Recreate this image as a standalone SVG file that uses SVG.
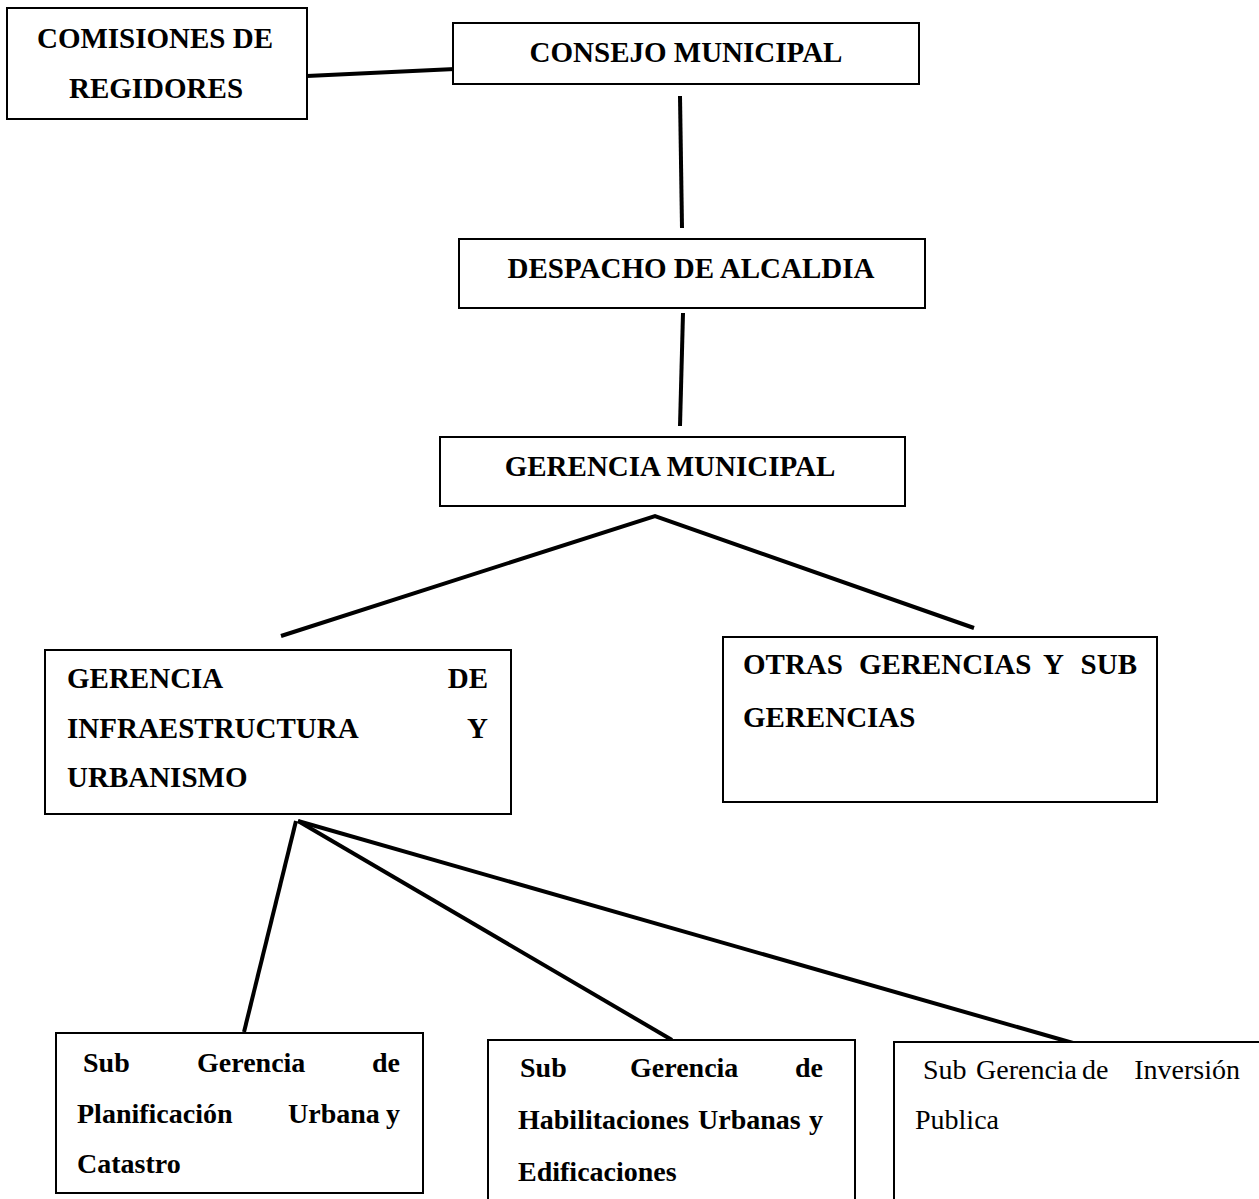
<svg xmlns="http://www.w3.org/2000/svg" width="1259" height="1199" viewBox="0 0 1259 1199">
<style>
.box{fill:#fff;stroke:#000;stroke-width:2}
.t{font-family:"Liberation Serif","Times New Roman",serif;font-weight:bold;font-size:29px;fill:#000}
.s{font-family:"Liberation Serif","Times New Roman",serif;font-weight:bold;font-size:28px;fill:#000}
.r{font-family:"Liberation Serif","Times New Roman",serif;font-size:28px;fill:#000}
.m{text-anchor:middle}
.e{text-anchor:end}
.c{fill:none;stroke:#000;stroke-width:4;stroke-linecap:butt;stroke-linejoin:miter}
</style>
<rect width="1259" height="1199" fill="#fff"/>
<g id="connectors">
<line class="c" x1="307" y1="76" x2="455" y2="69"/>
<line class="c" x1="680" y1="96" x2="682" y2="228"/>
<line class="c" x1="683" y1="313" x2="680" y2="426"/>
<polyline class="c" points="281,636 655,516 974,628"/>
<line class="c" x1="244" y1="1032" x2="296" y2="821"/>
<line class="c" x1="298" y1="821" x2="672" y2="1040"/>
<line class="c" x1="298" y1="821" x2="1073" y2="1043"/>
</g>
<g id="comisiones">
<rect class="box" x="7" y="8" width="300" height="111"/>
<text class="t m" x="155" y="48">COMISIONES DE</text>
<text class="t m" x="156" y="98">REGIDORES</text>
</g>
<g id="consejo">
<rect class="box" x="453" y="23" width="466" height="61"/>
<text class="t m" x="686" y="62">CONSEJO MUNICIPAL</text>
</g>
<g id="despacho">
<rect class="box" x="459" y="239" width="466" height="69"/>
<text class="t m" x="691" y="278">DESPACHO DE ALCALDIA</text>
</g>
<g id="gerencia-municipal">
<rect class="box" x="440" y="437" width="465" height="69"/>
<text class="t m" x="670" y="476">GERENCIA MUNICIPAL</text>
</g>
<g id="gerencia-infraestructura">
<rect class="box" x="45" y="650" width="466" height="164"/>
<text class="t" x="67" y="688">GERENCIA</text>
<text class="t e" x="488" y="688">DE</text>
<text class="t" x="67" y="738">INFRAESTRUCTURA</text>
<text class="t e" x="488" y="738">Y</text>
<text class="t" x="67" y="787">URBANISMO</text>
</g>
<g id="otras-gerencias">
<rect class="box" x="723" y="637" width="434" height="165"/>
<text class="t" x="743" y="674">OTRAS</text>
<text class="t" x="859" y="674">GERENCIAS</text>
<text class="t" x="1043" y="674">Y</text>
<text class="t e" x="1137" y="674">SUB</text>
<text class="t" x="743" y="727">GERENCIAS</text>
</g>
<g id="sg-planificacion">
<rect class="box" x="56" y="1033" width="367" height="160"/>
<text class="s" x="83" y="1072">Sub</text>
<text class="s" x="197" y="1072">Gerencia</text>
<text class="s e" x="400" y="1072">de</text>
<text class="s" x="77" y="1123">Planificación</text>
<text class="s" x="288" y="1123">Urbana</text>
<text class="s e" x="400" y="1123">y</text>
<text class="s" x="77" y="1173">Catastro</text>
</g>
<g id="sg-habilitaciones">
<rect class="box" x="488" y="1040" width="367" height="162"/>
<text class="s" x="520" y="1077">Sub</text>
<text class="s" x="630" y="1077">Gerencia</text>
<text class="s e" x="823" y="1077">de</text>
<text class="s" x="518" y="1129">Habilitaciones</text>
<text class="s" x="698" y="1129">Urbanas</text>
<text class="s e" x="823" y="1129">y</text>
<text class="s" x="518" y="1181">Edificaciones</text>
</g>
<g id="sg-inversion">
<rect class="box" x="894" y="1042" width="380" height="170"/>
<text class="r" x="923" y="1079">Sub</text>
<text class="r" x="976" y="1079">Gerencia</text>
<text class="r" x="1082" y="1079">de</text>
<text class="r e" x="1240" y="1079">Inversión</text>
<text class="r" x="915" y="1129">Publica</text>
</g>
</svg>
